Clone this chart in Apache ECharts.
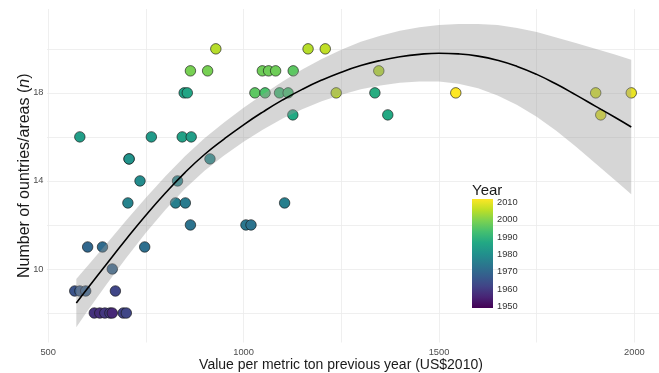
<!DOCTYPE html>
<html>
<head>
<meta charset="utf-8">
<script src="https://cdn.jsdelivr.net/npm/echarts@6/dist/echarts.min.js"></script>
<style>
  html, body { margin: 0; padding: 0; background: #ffffff; }
  #chart { width: 659px; height: 373px; }
</style>
</head>
<body>
<div id="chart"></div>
<script>
// Observations: [value per metric ton previous year, number of countries/areas, year]
const obsValue = [
  618, 632, 645, 658, 664, 692, 700,
  568, 581, 596, 672,
  664,
  601, 639, 747,
  864, 1006, 1019,
  704, 826, 851, 1105,
  735, 831,
  707, 707, 914,
  581, 764, 843, 866,
  1126, 1369, 1914,
  848, 856, 1029, 1055, 1092, 1114, 1237, 1336, 1543, 1901, 1992,
  864, 908, 1048, 1064, 1082, 1127, 1346,
  929, 1165, 1209
];
const obsCount = [
  8, 8, 8, 8, 8, 8, 8,
  9, 9, 9, 9,
  10,
  11, 11, 11,
  12, 12, 12,
  13, 13, 13, 13,
  14, 14,
  15, 15, 15,
  16, 16, 16, 16,
  17, 17, 17,
  18, 18, 18, 18, 18, 18, 18, 18, 18, 18, 18,
  19, 19, 19, 19, 19, 19, 19,
  20, 20, 20
];
const obsYear = [
  1958, 1957, 1959, 1960, 1956, 1961, 1962,
  1965, 1967, 1968, 1962,
  1969,
  1970, 1971, 1972,
  1973, 1974, 1973,
  1977, 1976, 1975, 1976,
  1979, 1978,
  1980, 1981, 1979,
  1984, 1983, 1985, 1984,
  1987, 1987, 2009,
  1985, 1986, 1996, 1994, 1992, 1993, 2006, 1988, 2012, 2008, 2010,
  1999, 1999, 1998, 1998, 1998, 1996, 2005,
  2005, 2005, 2006
];

// Smoothed trend and its confidence band
const fitX = [572, 600, 650, 700, 750, 800, 850, 900, 950, 1000, 1050, 1100, 1150, 1200, 1250,
  1300, 1350, 1400, 1450, 1500, 1550, 1600, 1650, 1700, 1750, 1800, 1850, 1900, 1950, 1992];
const fitY = [8.45, 9.10, 10.24, 11.36, 12.44, 13.45, 14.38, 15.20, 15.90, 16.55, 17.14, 17.68, 18.16, 18.58, 18.94,
  19.24, 19.47, 19.64, 19.75, 19.80, 19.77, 19.67, 19.48, 19.20, 18.84, 18.40, 17.91, 17.40, 16.89, 16.45];
const bandHigh = [9.55, 10.12, 11.16, 12.21, 13.24, 14.21, 15.12, 15.94, 16.65, 17.32, 17.94, 18.52, 19.06, 19.54, 19.96,
  20.32, 20.60, 20.82, 20.98, 21.08, 21.13, 21.13, 21.08, 20.95, 20.76, 20.52, 20.26, 20.00, 19.74, 19.50];
const bandLow = [7.35, 8.08, 9.32, 10.51, 11.64, 12.69, 13.64, 14.46, 15.15, 15.78, 16.34, 16.84, 17.26, 17.62, 17.92,
  18.16, 18.34, 18.46, 18.52, 18.52, 18.41, 18.21, 17.88, 17.45, 16.92, 16.28, 15.56, 14.80, 14.04, 13.40];

// Axis ticks
const xLabelTicks = [500, 1000, 1500, 2000];
const xGridTicks = [500, 750, 1000, 1250, 1500, 1750, 2000];
const yLabelTicks = [10, 14, 18];
const yGridTicks = [8, 10, 12, 14, 16, 18, 20];
const yearTicks = [1950, 1960, 1970, 1980, 1990, 2000, 2010];
const yearMin = 1949;
const yearMax = 2012;

const viridis = ['#440154', '#482475', '#414487', '#355f8d', '#2a788e', '#21918c',
  '#22a884', '#44bf70', '#7ad151', '#bddf26', '#fde725'];

const points = obsValue.map((v, i) => [v, obsCount[i], obsYear[i]]);
const fitLine = fitX.map((x, i) => [x, fitY[i]]);

const chart = echarts.init(document.getElementById('chart'), null, { renderer: 'canvas' });

const textFont = '"Liberation Sans", Arial, Helvetica, sans-serif';
const plainNumber = function (v) { return String(v); };

// colour bar: yellow at the top, purple at the bottom
const barStops = viridis.map((c, i) => ({ offset: 1 - i / (viridis.length - 1), color: c })).reverse();

chart.setOption({
  backgroundColor: '#ffffff',
  animation: false,
  textStyle: { fontFamily: textFont },
  grid: [
    { left: 47, right: 0, top: 9, bottom: 30.5, containLabel: false, outerBoundsMode: 'none' },
    { left: 472, top: 199, width: 21, height: 109, containLabel: false, outerBoundsMode: 'none' }
  ],
  visualMap: {
    type: 'continuous',
    show: false,
    seriesIndex: 0,
    dimension: 2,
    min: yearMin,
    max: yearMax,
    inRange: { color: viridis }
  },
  xAxis: [
    {
      type: 'value',
      gridIndex: 0,
      min: 497,
      max: 2063,
      name: 'Value per metric ton previous year (US$2010)',
      nameLocation: 'middle',
      nameGap: 16,
      nameMoveOverlap: false,
      nameTextStyle: { fontSize: 14, color: '#1a1a1a', fontFamily: textFont, padding: [0, 24, 0, 0] },
      axisLine: { show: false },
      axisTick: { show: false, customValues: xGridTicks },
      axisLabel: { customValues: xLabelTicks, fontSize: 9.3, color: '#4d4d4d', margin: 5, formatter: plainNumber },
      splitLine: { show: true, lineStyle: { color: '#ebebeb', width: 0.8 } }
    },
    {
      type: 'category',
      gridIndex: 1,
      data: ['Year'],
      show: false
    }
  ],
  yAxis: [
    {
      type: 'value',
      gridIndex: 0,
      min: 6.66,
      max: 21.81,
      name: 'Number of ountries/areas ({i|n})',
      nameLocation: 'middle',
      nameGap: 14,
      nameMoveOverlap: false,
      nameTextStyle: {
        fontSize: 16, color: '#1a1a1a', fontFamily: textFont,
        rich: { i: { fontSize: 16, fontStyle: 'italic', color: '#1a1a1a', fontFamily: textFont } }
      },
      axisLine: { show: false },
      axisTick: { show: false, customValues: yGridTicks },
      axisLabel: { customValues: yLabelTicks, fontSize: 9.3, color: '#4d4d4d', margin: 3.5 },
      splitLine: { show: true, lineStyle: { color: '#ebebeb', width: 0.8 } }
    },
    {
      type: 'value',
      gridIndex: 1,
      min: yearMin,
      max: yearMax,
      position: 'right',
      name: 'Year',
      nameLocation: 'end',
      nameGap: 1,
      nameMoveOverlap: false,
      nameTextStyle: { fontSize: 15, color: '#1a1a1a', align: 'left', padding: [0, 0, 0, -21] },
      axisLine: { show: false },
      axisTick: { show: true, inside: true, length: 4, customValues: yearTicks, lineStyle: { color: '#ffffff', width: 1 } },
      axisLabel: { customValues: yearTicks, fontSize: 9.3, color: '#333333', margin: 4, formatter: plainNumber },
      splitLine: { show: false }
    },
    {
      type: 'value',
      gridIndex: 1,
      min: yearMin,
      max: yearMax,
      position: 'left',
      axisLine: { show: false },
      axisTick: { show: true, inside: true, length: 4, customValues: yearTicks, lineStyle: { color: '#ffffff', width: 1 } },
      axisLabel: { show: false },
      splitLine: { show: false }
    }
  ],
  series: [
    {
      type: 'scatter',
      xAxisIndex: 0,
      yAxisIndex: 0,
      data: points,
      symbol: 'circle',
      symbolSize: 10.5,
      z: 2,
      itemStyle: { borderColor: 'rgba(20,20,20,0.8)', borderWidth: 0.8, opacity: 1 }
    },
    {
      type: 'custom',
      xAxisIndex: 0,
      yAxisIndex: 0,
      data: [[fitX[0], fitY[0]]],
      z: 3,
      silent: true,
      renderItem: function (params, api) {
        const pts = [];
        for (let i = 0; i < fitX.length; i++) pts.push(api.coord([fitX[i], bandHigh[i]]));
        for (let i = fitX.length - 1; i >= 0; i--) pts.push(api.coord([fitX[i], bandLow[i]]));
        return {
          type: 'polygon',
          shape: { points: pts },
          style: { fill: 'rgba(153,153,153,0.4)' }
        };
      }
    },
    {
      type: 'line',
      xAxisIndex: 0,
      yAxisIndex: 0,
      data: fitLine,
      smooth: 0.5,
      showSymbol: false,
      z: 4,
      silent: true,
      lineStyle: { color: '#000000', width: 1.6 }
    },
    {
      type: 'custom',
      xAxisIndex: 1,
      yAxisIndex: 1,
      data: [[0, yearMax]],
      z: 1,
      silent: true,
      renderItem: function (params, api) {
        const top = api.coord([0, yearMax]);
        const bottom = api.coord([0, yearMin]);
        const w = api.size([1, 0])[0];
        return {
          type: 'rect',
          shape: { x: top[0] - w / 2, y: top[1], width: w, height: bottom[1] - top[1] },
          style: { fill: new echarts.graphic.LinearGradient(0, 0, 0, 1, barStops) }
        };
      }
    }
  ]
});
</script>
</body>
</html>
